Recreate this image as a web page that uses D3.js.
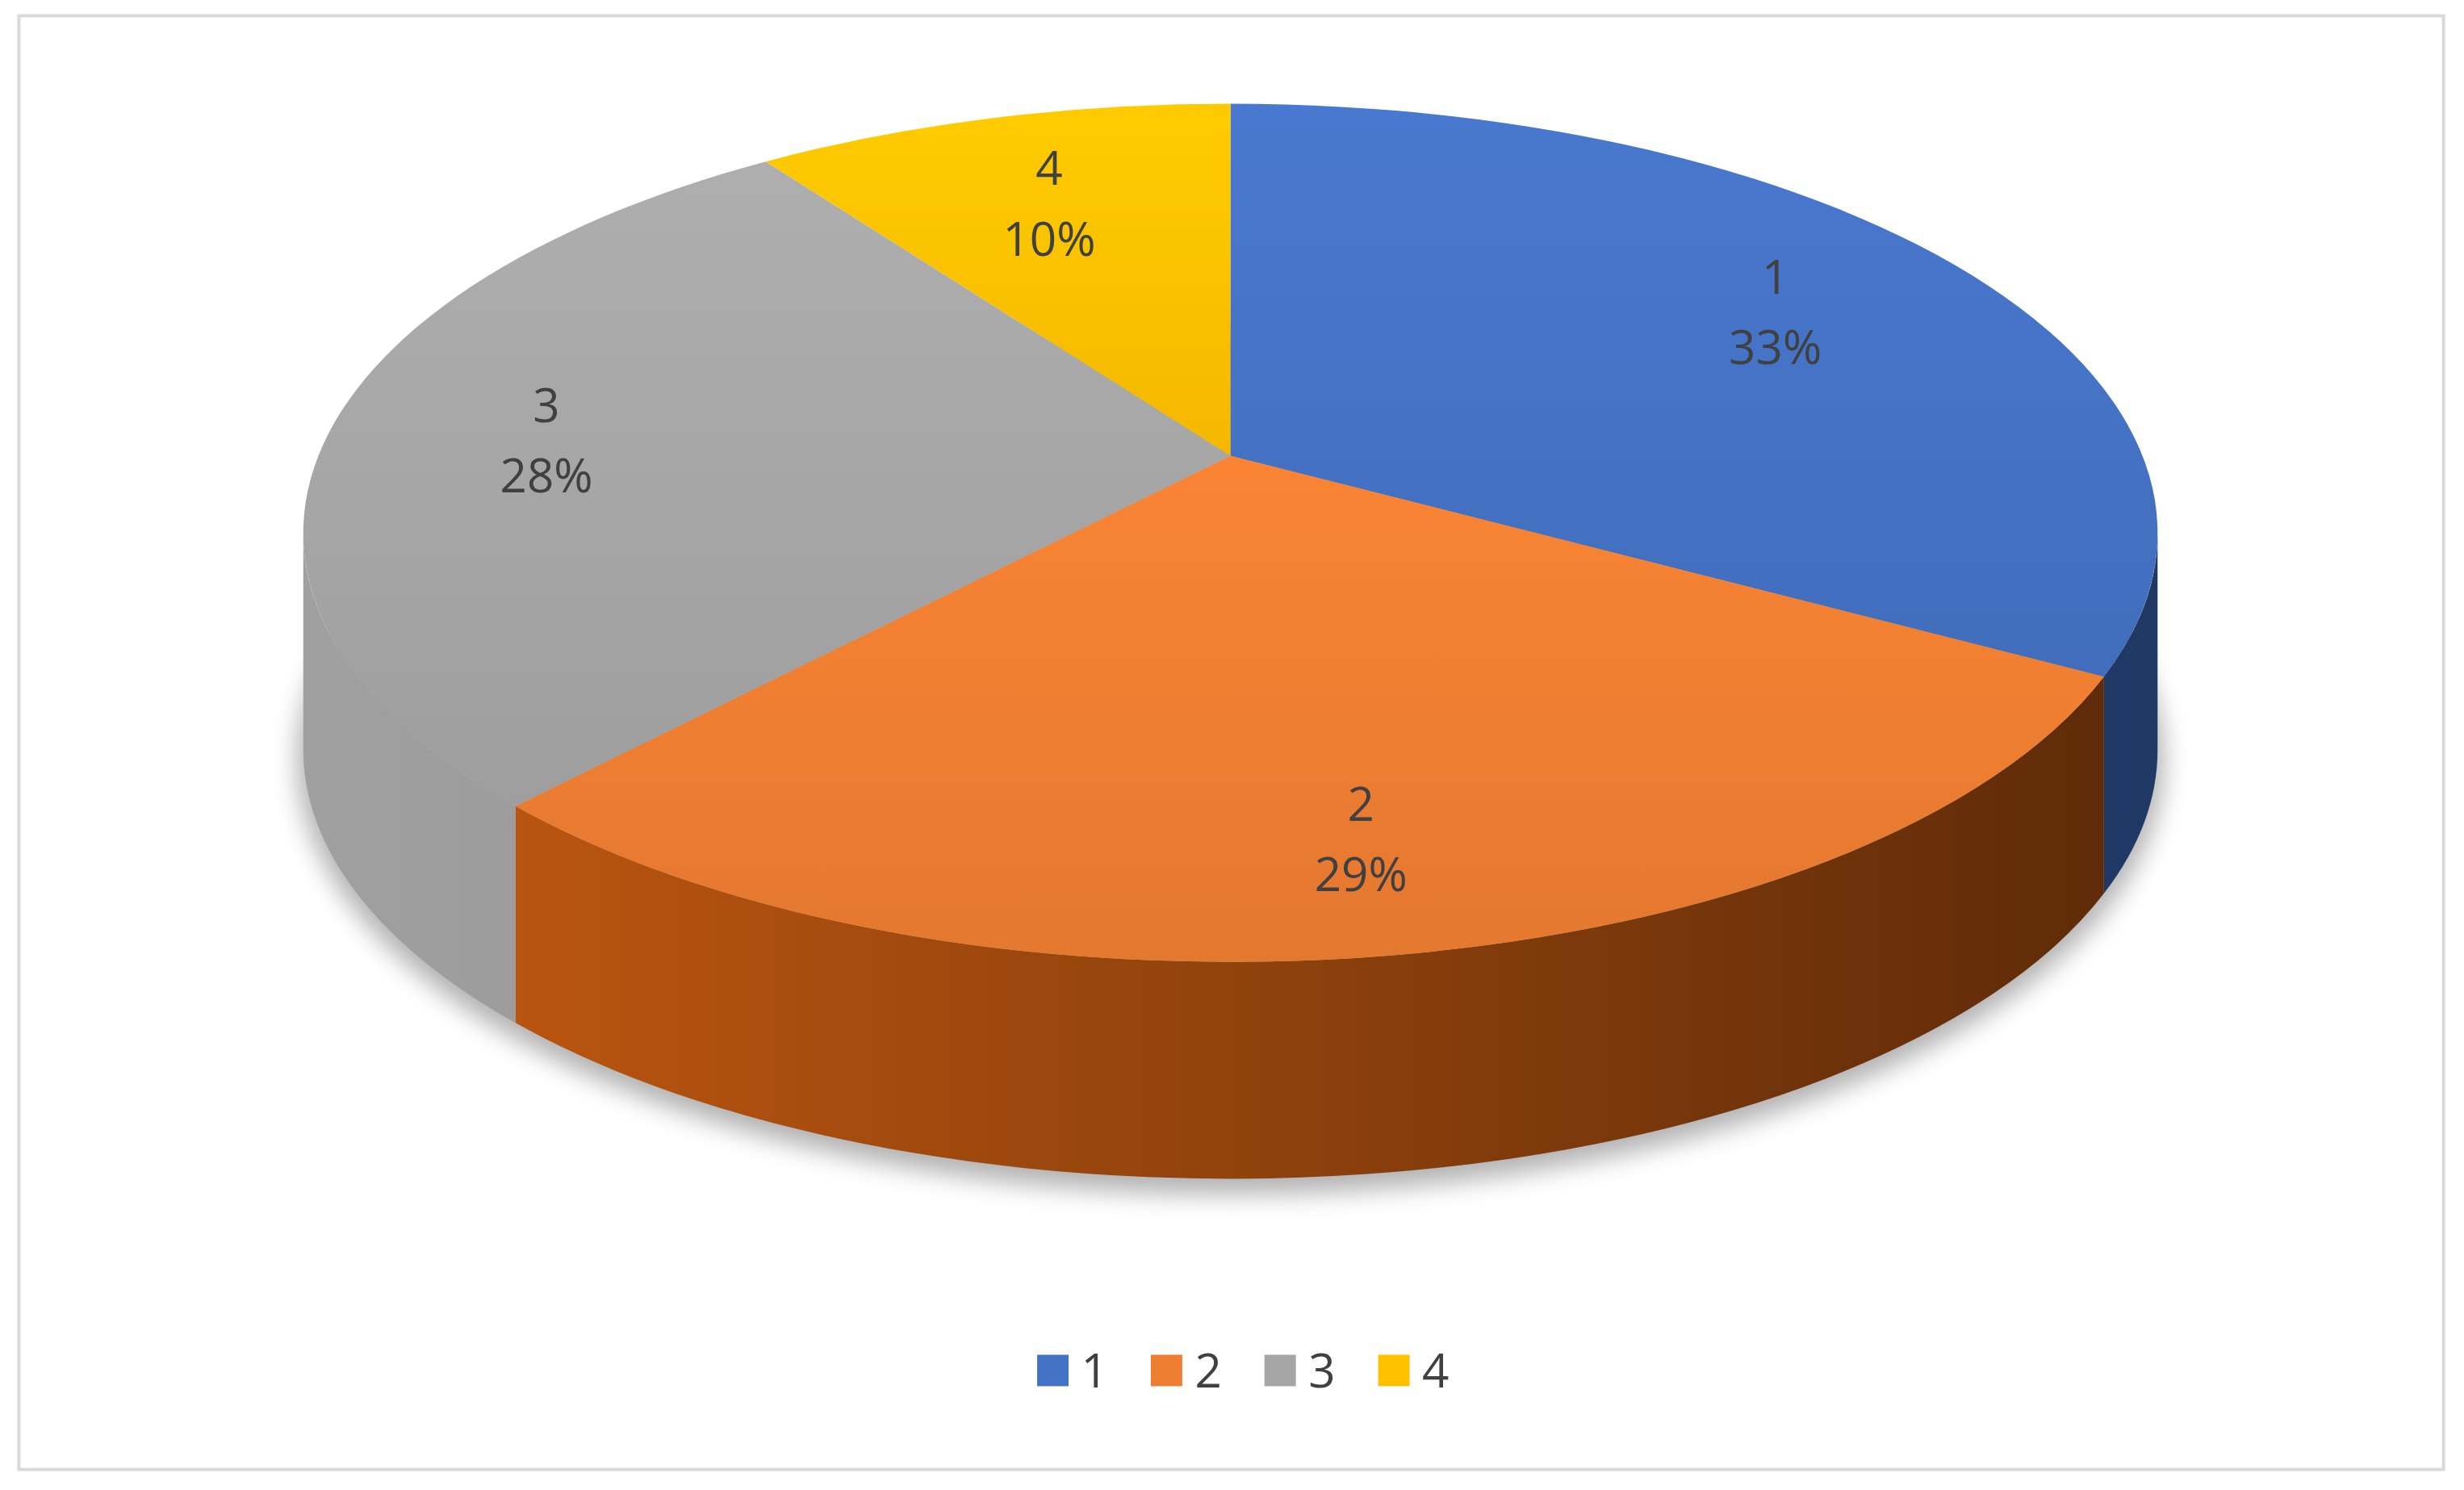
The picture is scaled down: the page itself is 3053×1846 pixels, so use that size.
<!DOCTYPE html>
<html><head><meta charset="utf-8">
<script src="https://cdn.jsdelivr.net/npm/d3@7"></script>
<style>body{margin:0;background:#fff}svg{display:block}</style>
</head><body>
<svg id="chart" width="3053" height="1846" viewBox="0 0 1568 948"></svg>
<script>
const categories = ["1", "2", "3", "4"];
const shares = [33, 29, 28, 10];
const topColors = ["#4472c4", "#ed7d31", "#a5a5a5", "#ffc000"];
const sideLight = ["#2f5597", "#c55a11", "#a0a0a0", "#bf9000"];
const sideDark = ["#1f3864", "#5c2a08", "#7f7f7f", "#7f6000"];

const svg = d3.select("#chart");
const cx = 783, cy = 339, rx = 590, ry = 273, depth = 138;
const apex = [783, 290];
const tilt = 0.46;

svg.append("rect").attr("x", 12).attr("y", 10).attr("width", 1543).attr("height", 925)
  .attr("fill", "#fff").attr("stroke", "#d9d9d9").attr("stroke-width", 2);

const defs = svg.append("defs");
defs.append("filter").attr("id", "blur").attr("x", "-20%").attr("y", "-20%").attr("width", "140%").attr("height", "140%")
  .append("feGaussianBlur").attr("stdDeviation", 8);

const arcs = d3.pie().sort(null).value(d => d)(shares);

// ray from apex in perspective direction, hit on rim ellipse
const rim = a => {
  const dx = Math.sin(a), dy = -tilt * Math.cos(a);
  const ox = (apex[0] - cx) / rx, oy = (apex[1] - cy) / ry;
  const ux = dx / rx, uy = dy / ry;
  const A = ux * ux + uy * uy, B = 2 * (ox * ux + oy * uy), C = ox * ox + oy * oy - 1;
  const s = (-B + Math.sqrt(B * B - 4 * A * C)) / (2 * A);
  const px = apex[0] + s * dx, py = apex[1] + s * dy;
  let t = Math.atan2((px - cx) / rx, -(py - cy) / ry);
  if (t < 0) t += 2 * Math.PI;
  return { x: px, y: py, t };
};
const pt = (t, dy = 0) => [cx + rx * Math.sin(t), cy - ry * Math.cos(t) + dy];

svg.append("ellipse").attr("cx", cx).attr("cy", cy + depth + 6).attr("rx", rx + 4).attr("ry", ry + 4)
  .attr("fill", "#000").attr("opacity", 0.3).attr("filter", "url(#blur)");

arcs.forEach((d, i) => {
  d.t0 = i === 0 ? 0 : rim(d.startAngle).t;
  d.t1 = i === arcs.length - 1 ? 2 * Math.PI : rim(d.endAngle).t;
  const g = defs.append("linearGradient").attr("id", "side" + i)
    .attr("gradientUnits", "userSpaceOnUse").attr("x1", cx - rx).attr("x2", cx + rx).attr("y1", 0).attr("y2", 0);
  g.append("stop").attr("offset", "0%").attr("stop-color", sideLight[i]);
  g.append("stop").attr("offset", "100%").attr("stop-color", sideDark[i]);
  const tg = defs.append("linearGradient").attr("id", "top" + i).attr("x1", 0).attr("x2", 0).attr("y1", 0).attr("y2", 1);
  tg.append("stop").attr("offset", "0%").attr("stop-color", d3.color(topColors[i]).brighter(0.15));
  tg.append("stop").attr("offset", "100%").attr("stop-color", d3.color(topColors[i]).darker(0.12));
});

// side walls
arcs.forEach((d, i) => {
  const a0 = Math.max(d.t0, Math.PI / 2), a1 = Math.min(d.t1, 3 * Math.PI / 2);
  if (a1 <= a0) return;
  const large = a1 - a0 > Math.PI ? 1 : 0;
  svg.append("path")
    .attr("d", `M${pt(a0)}A${rx},${ry} 0 ${large} 1 ${pt(a1)}L${pt(a1, depth)}A${rx},${ry} 0 ${large} 0 ${pt(a0, depth)}Z`)
    .attr("fill", `url(#side${i})`);
});

// top faces
arcs.forEach((d, i) => {
  const large = d.t1 - d.t0 > Math.PI ? 1 : 0;
  svg.append("path")
    .attr("d", `M${apex}L${pt(d.t0)}A${rx},${ry} 0 ${large} 1 ${pt(d.t1)}Z`)
    .attr("fill", `url(#top${i})`);
});

// labels
arcs.forEach((d, i) => {
  const p = rim((d.startAngle + d.endAngle) / 2);
  const k = 0.76;
  const x = apex[0] + k * (p.x - apex[0]), y = apex[1] + k * (p.y - apex[1]);
  const t = svg.append("text").attr("x", x).attr("y", y).attr("text-anchor", "middle")
    .attr("font-family", "Open Sans, sans-serif").attr("font-size", 30).attr("fill", "#404040");
  t.append("tspan").attr("x", x).attr("dy", "-0.3em").text(categories[i]);
  t.append("tspan").attr("x", x).attr("dy", "1.5em").text(shares[i] + "%");
});

// legend
const lx = d3.scalePoint().domain(categories).range([660, 877]);
const lg = svg.append("g").selectAll("g").data(categories).join("g")
  .attr("transform", d => `translate(${lx(d)},872)`);
lg.append("rect").attr("x", 0).attr("y", -10).attr("width", 20).attr("height", 20)
  .attr("fill", (d, i) => topColors[i]);
lg.append("text").attr("x", 28).attr("y", 11).attr("font-family", "Open Sans, sans-serif")
  .attr("font-size", 30).attr("fill", "#404040").text(d => d);
</script>
</body></html>
